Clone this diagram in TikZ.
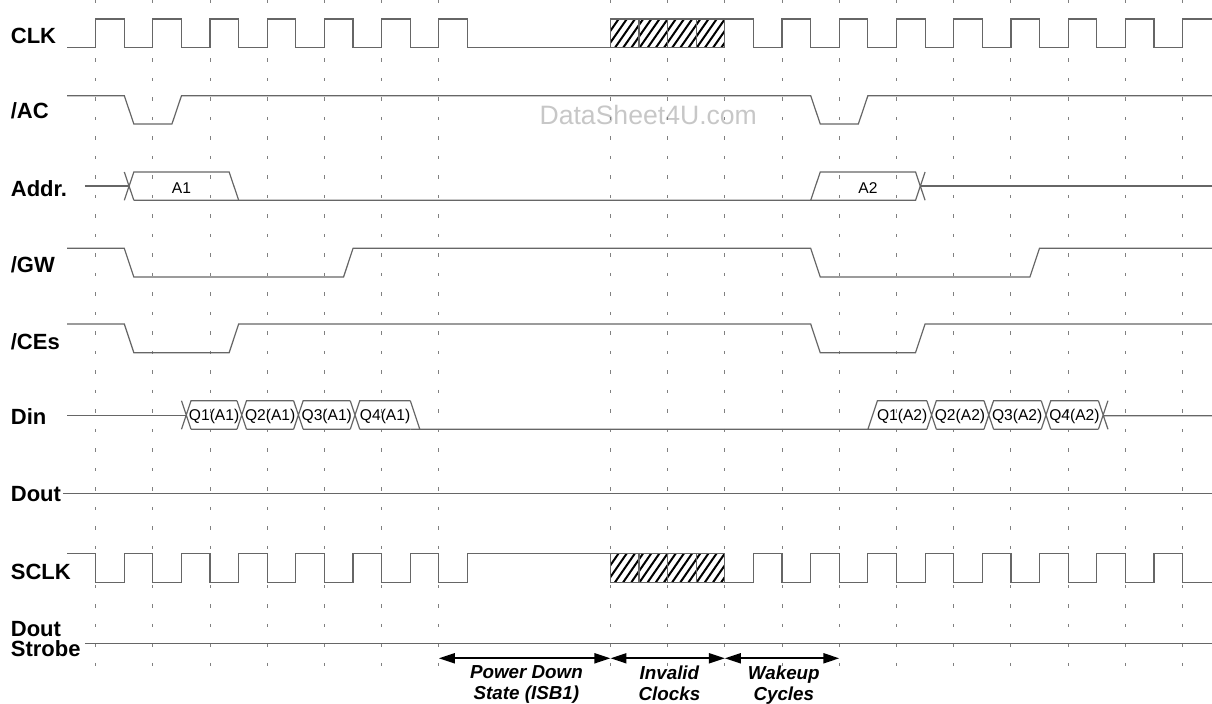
\documentclass[tikz,border=0pt]{standalone}
\usepackage{fontspec}
\setmainfont{Liberation Sans}
\usetikzlibrary{arrows.meta}
\definecolor{wwwwww}{rgb}{0.4,0.4,0.4}
\definecolor{xdxdxd}{rgb}{0.5,0.5,0.5}
\definecolor{cqcqcq}{rgb}{0.78,0.78,0.78}

\begin{document}
\begin{tikzpicture}[line cap=butt,line join=miter,>={Triangle[length=8pt,width=5pt]},x=28.6pt,y=-0.5pt,
  sig/.style={color=wwwwww,line width=0.6pt},
  gridline/.style={color=xdxdxd,line width=0.5pt,dash pattern=on 1.75pt off 8pt},
  hatch/.style={color=black,line width=1pt},
  lbl/.style={anchor=base west,inner sep=0pt,font=\fontsize{11}{13}\selectfont\bfseries},
  buslbl/.style={anchor=base,inner sep=0pt,font=\fontsize{7.8}{9}\selectfont},
  spanlbl/.style={anchor=north,inner sep=0pt,align=center,font=\fontsize{9.4}{10.5}\selectfont\bfseries\itshape}]
\useasboundingbox (-1.673,0) rectangle (19.516,704);
\node[anchor=base,inner sep=0pt,text=cqcqcq,font=\fontsize{13.3}{15}\selectfont] (wm) at (9.66,125) {DataSheet4U.com};
% clock grid
\foreach \k in {0,1,2,3,4,5,6,9,10,11,12,13,14,15,16,17,18,19}
  \draw[gridline] (\k,0) -- (\k,668);
% signal names
\node[lbl] (clk) at (-1.49,44) {CLK};
\node[lbl] (ac) at (-1.49,119) {/AC};
\node[lbl] (addr) at (-1.49,196.7) {Addr.};
\node[lbl] (gw) at (-1.49,273) {/GW};
\node[lbl] (ces) at (-1.49,350) {/CEs};
\node[lbl] (din) at (-1.49,425) {Din};
\node[lbl] (dout) at (-1.49,501.7) {Dout};
\node[lbl] (sclk) at (-1.49,579.3) {SCLK};
\node[lbl] (dstr) at (-1.49,636.7) {Dout};
\node[lbl] (dstrb) at (-1.49,656.7) {Strobe};
% CLK
\draw[sig] (-0.5,47.7) foreach \k in {0,...,6} {-- (\k,47.7) -- (\k,19) -- (\k+0.5,19) -- (\k+0.5,47.7)} -- (9,47.7);
\draw[sig] (11,19) -- (11.5,19) -- (11.5,47.7) foreach \k in {12,...,18} {-- (\k,47.7) -- (\k,19) -- (\k+0.5,19) -- (\k+0.5,47.7)} -- (19,47.7) -- (19,19) -- (19.516,19);
% invalid clocks
\foreach \hi/\lo in {19/47.7,553.3/582.3}{
  \begin{scope}
    \clip (9,\hi) rectangle (11,\lo);
    \foreach \h in {0,...,18}
      \draw[hatch] (8.65+\h/7,\lo) -- (9+\h/7,\hi);
  \end{scope}
  \draw[sig] (9,\hi) rectangle (11,\lo);
  \foreach \v in {9.5,10,10.5}
    \draw[sig] (\v,\hi) -- (\v,\lo);
}
% /AC
\draw[sig] (-0.5,95.7) -- (0.5,95.7) -- (0.667,124) -- (1.333,124) -- (1.5,95.7) -- (12.5,95.7) -- (12.667,124) -- (13.333,124) -- (13.5,95.7) -- (19.516,95.7);
% Addr.
\draw[sig] (-0.187,186) -- (0.583,186);
\draw[sig] (0.5,172) -- (0.667,200.3) (0.5,200.3) -- (0.667,172) -- (2.333,172) -- (2.5,200.3);
\draw[sig] (0.667,200.3) -- (12.5,200.3) -- (12.667,172) -- (14.333,172) -- (14.5,200.3);
\draw[sig] (12.5,200.3) -- (14.333,200.3) -- (14.5,172);
\draw[sig] (14.417,186) -- (19.516,186);
\node[buslbl] (a1) at (1.5,193.3) {A1};
\node[buslbl] (a2) at (13.5,193.3) {A2};
% /GW
\draw[sig] (-0.5,248.3) -- (0.5,248.3) -- (0.667,277) -- (4.333,277) -- (4.5,248.3) -- (12.5,248.3) -- (12.667,277) -- (16.333,277) -- (16.5,248.3) -- (19.516,248.3);
% /CEs
\draw[sig] (-0.5,324) -- (0.5,324) -- (0.667,352.7) -- (2.333,352.7) -- (2.5,324) -- (12.5,324) -- (12.667,352.7) -- (14.333,352.7) -- (14.5,324) -- (19.516,324);
% Din
\draw[sig] (-0.5,415.7) -- (1.583,415.7);
\foreach \a/\b in {1.5/2.47,2.47/3.46,3.46/4.45,4.45/5.5}
  \draw[sig] (\a,400.7) -- (\a+0.167,429.3) (\a,429.3) -- (\a+0.167,400.7) -- (\b,400.7) (\a+0.167,429.3) -- (\b,429.3);
\draw[sig] (5.5,400.7) -- (5.667,429.3) (5.5,429.3) -- (13.5,429.3) -- (13.667,400.7) -- (14.53,400.7) (13.5,429.3) -- (14.53,429.3);
\foreach \a/\b in {14.53/15.53,15.53/16.53,16.53/17.53}
  \draw[sig] (\a,400.7) -- (\a+0.167,429.3) (\a,429.3) -- (\a+0.167,400.7) -- (\b,400.7) (\a+0.167,429.3) -- (\b,429.3);
\draw[sig] (17.53,400.7) -- (17.697,429.3) (17.53,429.3) -- (17.697,400.7) (17.613,415.7) -- (19.516,415.7);
\foreach \t/\s [count=\i] in {2.07/Q1(A1),3.05/Q2(A1),4.04/Q3(A1),5.06/Q4(A1),14.1/Q1(A2),15.11/Q2(A2),16.11/Q3(A2),17.11/Q4(A2)}
  \node[buslbl] (q\i) at (\t,421) {\s};
% Dout
\draw[sig] (-0.566,493.3) -- (19.516,493.3);
% SCLK
\draw[sig] (-0.5,553.3) foreach \k in {0,...,6} {-- (\k,553.3) -- (\k,582.3) -- (\k+0.5,582.3) -- (\k+0.5,553.3)} -- (9,553.3);
\draw[sig] (11,582.3) -- (11.5,582.3) -- (11.5,553.3) foreach \k in {12,...,18} {-- (\k,553.3) -- (\k,582.3) -- (\k+0.5,582.3) -- (\k+0.5,553.3)} -- (19,553.3) -- (19,582.3) -- (19.516,582.3);
% Dout Strobe
\draw[sig] (-0.187,643.3) -- (19.516,643.3);
% phases
\coordinate (p0) at (6,658.3);
\coordinate (p1) at (9,658.3);
\coordinate (p2) at (11,658.3);
\coordinate (p3) at (13,658.3);
\draw[<->,line width=1pt] (p0) -- (p1);
\draw[<->,line width=1pt] (p1) -- (p2);
\draw[<->,line width=1pt] (p2) -- (p3);
\node[spanlbl] (pd) at (7.53,665) {Power Down\\State (ISB1)};
\node[spanlbl] (inv) at (10.03,665) {Invalid\\Clocks};
\node[spanlbl] (wk) at (12.03,665) {Wakeup\\Cycles};
\end{tikzpicture}
\end{document}
